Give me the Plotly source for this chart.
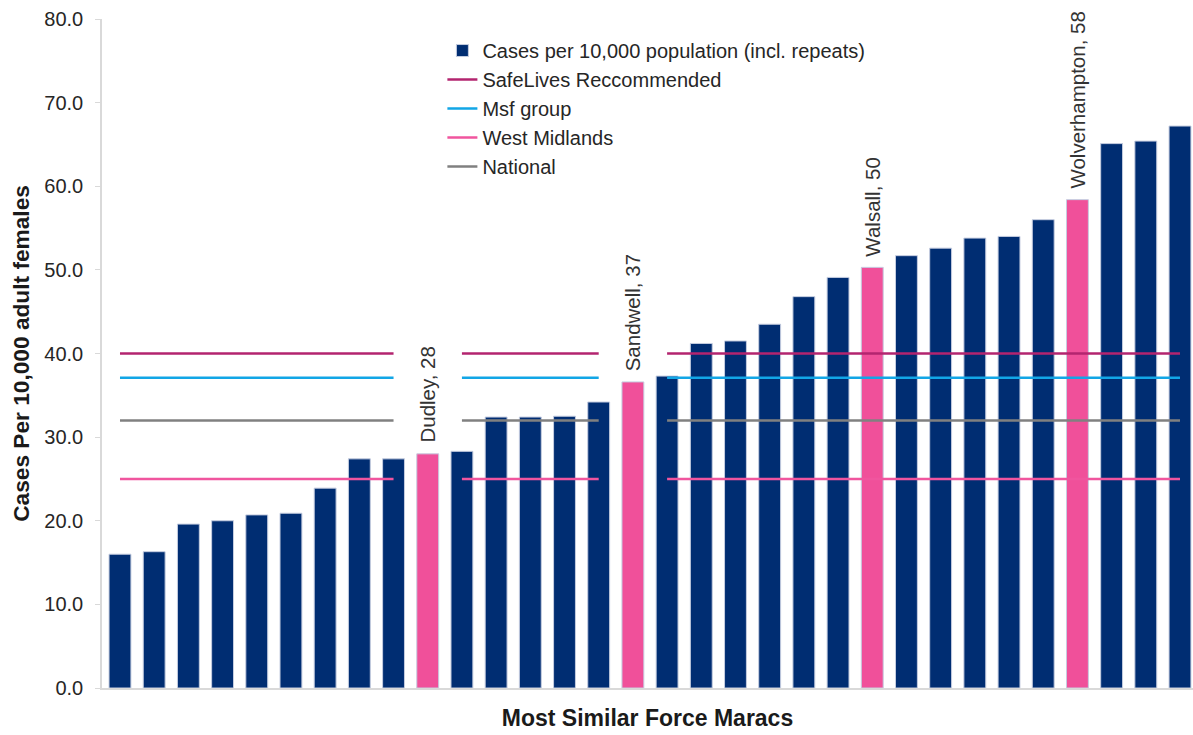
import plotly.graph_objects as go

# ---- data ----
positions = list(range(1, 33))
cases = [16.0, 16.3, 19.6, 20.0, 20.7, 20.9, 23.9, 27.4, 27.4, 28.0,
         28.3, 32.4, 32.4, 32.5, 34.2, 36.6, 37.3, 41.2, 41.5, 43.5,
         46.8, 49.1, 50.3, 51.7, 52.6, 53.8, 54.0, 56.0, 58.4, 65.1,
         65.4, 67.2]
highlight_pos = [10, 16, 23, 29]
highlight_labels = ["Dudley, 28", "Sandwell, 37", "Walsall, 50", "Wolverhampton, 58"]
line_gaps = [10, 16]  # benchmark lines are broken where labels sit

bench_names = ["SafeLives Reccommended", "Msf group", "West Midlands", "National"]
bench_values = [40.0, 37.1, 25.0, 32.0]
bench_colors = ["#B3246F", "#12A6E6", "#F0559E", "#808080"]

NAVY = "#002D72"
PINK = "#F0509A"
FONT = "Liberation Sans, Arial, sans-serif"

bar_colors = [PINK if p in highlight_pos else NAVY for p in positions]

fig = go.Figure()
fig.add_trace(go.Bar(
    x=positions, y=cases, name="Cases per 10,000 population (incl. repeats)",
    marker=dict(color=bar_colors, line=dict(color="#c5cde0", width=1)),
    width=0.64,
))

for name, val, col in zip(bench_names, bench_values, bench_colors):
    ys = [None if p in line_gaps else val for p in positions]
    fig.add_trace(go.Scatter(
        x=positions, y=ys, mode="lines", name=name, connectgaps=False,
        line=dict(color=col, width=2.5),
    ))

for p, lab in zip(highlight_pos, highlight_labels):
    fig.add_annotation(
        x=p, y=cases[p - 1], text=lab, textangle=-90, showarrow=False,
        xanchor="center", yanchor="bottom", yshift=9,
        font=dict(family=FONT, size=20.5, color="#333333"),
    )

fig.update_layout(
    width=1193, height=735,
    margin=dict(l=102, r=0, t=19, b=47),
    paper_bgcolor="white", plot_bgcolor="white",
    font=dict(family=FONT, size=20, color="#262626"),
    showlegend=True,
    legend=dict(
        x=0.312, y=0.982, xanchor="left", yanchor="top",
        bgcolor="rgba(0,0,0,0)", font=dict(family=FONT, size=20, color="#262626"),
        itemwidth=30, tracegroupgap=0,
    ),
)
fig.update_xaxes(
    range=[0.474, 32.38], showticklabels=False, ticks="", showgrid=False,
    showline=True, linecolor="#d9d9d9", linewidth=1.5, zeroline=False,
    automargin=False,
    title=dict(text="<b>Most Similar Force Maracs</b>", standoff=21,
               font=dict(family=FONT, size=23, color="#1a1a1a")),
)
fig.update_yaxes(
    range=[0, 80], dtick=10, tickformat=".1f", showgrid=False,
    showline=True, linecolor="#d9d9d9", linewidth=1.5,
    ticks="outside", ticklen=5, tickcolor="#d9d9d9", ticklabelstandoff=8,
    zeroline=False, automargin=False,
    tickfont=dict(family=FONT, size=20, color="#262626"),
    title=dict(text="<b>Cases Per 10,000 adult females</b>", standoff=8,
               font=dict(family=FONT, size=22.7, color="#1a1a1a")),
)

fig.write_html("out.html")
